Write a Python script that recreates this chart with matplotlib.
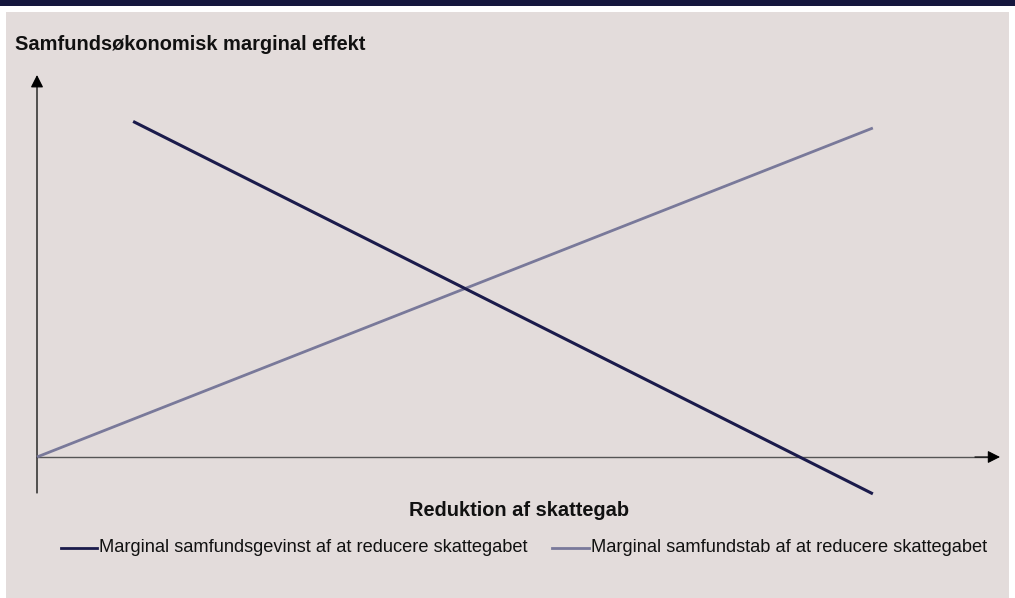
import matplotlib
matplotlib.use("Agg")
import matplotlib.pyplot as plt
from matplotlib.lines import Line2D
from matplotlib.patches import Rectangle

plt.rcParams['font.family'] = ['Liberation Sans', 'DejaVu Sans']

# Data (schematic lines)
gevinst_x = [11.5, 100.0]
gevinst_y = [102.0, -11.2]
stab_x = [0.0, 100.0]
stab_y = [0.0, 100.0]

title = "Samfundsøkonomisk marginal effekt"
xlabel = "Reduktion af skattegab"
label_gevinst = "Marginal samfundsgevinst af at reducere skattegabet"
label_stab = "Marginal samfundstab af at reducere skattegabet"

W, H = 1015, 598
fig = plt.figure(figsize=(W / 100, H / 100), dpi=100)
fig.patch.set_facecolor('white')

def fx(px):
    return px / W

def fy(py):
    return 1 - py / H

# background panel and top band
bg = fig.add_axes([0, 0, 1, 1], zorder=0)
bg.set_xlim(0, W)
bg.set_ylim(H, 0)
bg.axis('off')
bg.add_patch(Rectangle((6, 12), 1003, H - 12, facecolor='#e3dcdb', edgecolor='none'))
bg.add_patch(Rectangle((0, 0), W, 6, facecolor='#15163d', edgecolor='none'))

# axes: pixels x 37..1000, y 75..493
ax = fig.add_axes([fx(37), fy(493), fx(1000) - fx(37), fy(75) - fy(493)], zorder=2)
ax.set_facecolor('none')
xmax = (999 - 37) / 8.35
ymin = -(493 - 457) / 3.29
ymax = (457 - 75) / 3.29
ax.set_xlim(0, xmax)
ax.set_ylim(ymin, ymax)
for s in ax.spines.values():
    s.set_visible(False)
ax.set_xticks([])
ax.set_yticks([])

arrow_style = '-|>,head_length=0.75,head_width=0.38'
ax.plot([0, xmax - 1], [0, 0], color='#555555', lw=1.0, zorder=2, clip_on=False)
ax.annotate('', xy=(xmax, 0), xytext=(xmax - 3, 0),
            arrowprops=dict(arrowstyle=arrow_style, color='#000000', lw=0.8,
                            shrinkA=0, shrinkB=0, mutation_scale=10), annotation_clip=False)
ax.annotate('', xy=(0, ymax), xytext=(0, ymin),
            arrowprops=dict(arrowstyle=arrow_style, color='#000000', lw=0.9,
                            shrinkA=0, shrinkB=0, mutation_scale=10), annotation_clip=False)

c_gev = '#1b1b4b'
c_stab = '#79799a'
ax.plot(stab_x, stab_y, color=c_stab, lw=2.0, solid_capstyle='butt', clip_on=False, zorder=3)
ax.plot(gevinst_x, gevinst_y, color=c_gev, lw=2.2, solid_capstyle='butt', clip_on=False, zorder=4)

# texts
fig.text(fx(15), fy(45), title, fontsize=14.4, fontweight='bold', ha='left', va='center', color='#111111')
fig.text(fx(519), fy(511), xlabel, fontsize=14.4, fontweight='bold', ha='center', va='center', color='#111111')

# legend
ly = fy(548)
fig.lines.append(Line2D([fx(61), fx(97)], [ly, ly], transform=fig.transFigure, color=c_gev, lw=2.0))
fig.text(fx(99), ly, label_gevinst, fontsize=13.15, ha='left', va='center', color='#111111')
fig.lines.append(Line2D([fx(552), fx(589)], [ly, ly], transform=fig.transFigure, color=c_stab, lw=2.0))
fig.text(fx(591), ly, label_stab, fontsize=13.15, ha='left', va='center', color='#111111')

fig.savefig('out.png', dpi=100, facecolor=fig.get_facecolor())
